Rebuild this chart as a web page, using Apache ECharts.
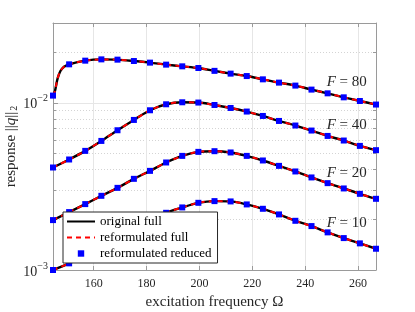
<!DOCTYPE html>
<html>
<head>
<meta charset="utf-8">
<script src="https://cdn.jsdelivr.net/npm/echarts@6/dist/echarts.min.js"></script>
<style>html,body{margin:0;padding:0;background:#fff}#c{width:415px;height:312px}</style>
</head>
<body>
<div id="c"></div>
<script>
// ---- data ----
const omega = [144.6, 150.7, 156.8, 162.9, 169.0, 175.2, 181.3, 187.4, 193.5, 199.6, 205.7, 211.8, 217.9, 224.0, 230.1, 236.3, 242.4, 248.5, 254.6, 260.7, 266.8];
const resp80 = [0.01104, 0.01698, 0.01786, 0.01818, 0.01811, 0.01777, 0.01738, 0.01691, 0.01652, 0.01614, 0.01552, 0.01494, 0.01445, 0.01381, 0.01320, 0.01267, 0.01199, 0.01139, 0.01078, 0.01025, 0.00976];
const resp40 = [0.004102, 0.004580, 0.005157, 0.005914, 0.006851, 0.007896, 0.009020, 0.009795, 0.01007, 0.01003, 0.009703, 0.009311, 0.008862, 0.008341, 0.007787, 0.007311, 0.006823, 0.006335, 0.005947, 0.005523, 0.005207];
const resp20 = [0.001988, 0.002220, 0.002478, 0.002777, 0.003099, 0.003509, 0.003916, 0.004395, 0.004813, 0.005087, 0.005135, 0.005045, 0.004813, 0.004518, 0.004195, 0.003884, 0.003577, 0.003307, 0.003074, 0.002854, 0.002665];
const resp10 = [0.001000, 0.001096, 0.001229, 0.001379, 0.001548, 0.001738, 0.001953, 0.002198, 0.002367, 0.002522, 0.002582, 0.002571, 0.002467, 0.002323, 0.002150, 0.001969, 0.001831, 0.001679, 0.001552, 0.001443, 0.001340];
// extra points of the full solution on the steep start of F = 80
const omegaRise80 = [145.3, 145.74, 146.38, 147.41, 148.66];
const respRise80 = [0.01170, 0.01262, 0.01405, 0.01548, 0.01638];
const forceLevels = ['80', '40', '20', '10'];
const xTicks = [160, 180, 200, 220, 240, 260];
const xRange = [144.6, 266.8];
const yMajor = [0.001, 0.01];
const yMinor = [0.002, 0.003, 0.004, 0.005, 0.006, 0.007, 0.008, 0.009, 0.02];
const yRange = [0.001, 0.03];
const legendNames = ['original full', 'reformulated full', 'reformulated reduced'];
const labelIndex = 18;

const FONT = '"Liberation Serif", "DejaVu Serif", serif';
const TXT = '#262626';
const AX = '#9a9a9a';

const curves = [
  {F: forceLevels[0], y: resp80, riseX: omegaRise80, riseY: respRise80},
  {F: forceLevels[1], y: resp40},
  {F: forceLevels[2], y: resp20},
  {F: forceLevels[3], y: resp10}
];

const series = [];
curves.forEach(c => {
  const pts = omega.map((x, i) => [x, c.y[i]]);
  let full = pts.slice();
  if (c.riseX) {
    c.riseX.forEach((x, i) => full.push([x, c.riseY[i]]));
    full.sort((a, b) => a[0] - b[0]);
  }
  series.push({
    name: legendNames[0], type: 'line', data: full, showSymbol: false, symbol: 'none',
    smooth: 0.3, lineStyle: {color: '#000', width: 2.4}, itemStyle: {color: '#000'}, z: 2, silent: true
  });
  series.push({
    name: legendNames[1], type: 'line', data: full, showSymbol: false, symbol: 'none',
    smooth: 0.3, lineStyle: {color: '#ff0000', width: 2, type: [5, 4]}, itemStyle: {color: '#ff0000'}, z: 2, silent: true
  });
  series.push({
    name: legendNames[2], type: 'line', symbol: 'rect', symbolSize: 6, showSymbol: true,
    lineStyle: {width: 0, opacity: 0}, itemStyle: {color: '#0000ff'}, z: 2, silent: true,
    data: pts.map((p, i) => i === labelIndex ? {
      value: p,
      label: {
        show: true, position: 'top', distance: 5, offset: [3, 0],
        formatter: '{i|F} = ' + c.F,
        fontFamily: FONT, fontSize: 15, color: TXT,
        rich: {i: {fontStyle: 'italic', fontFamily: FONT, fontSize: 15, color: TXT}}
      }
    } : p)
  });
});

const chart = echarts.init(document.getElementById('c'), null, {renderer: 'canvas'});
chart.setOption({
  animation: false,
  backgroundColor: '#fff',
  grid: {left: 53, right: 39, top: 23, bottom: 42, containLabel: false, outerBoundsMode: 'none'},
  legend: {
    data: [
      {name: legendNames[0], itemStyle: {opacity: 0}},
      {name: legendNames[1], itemStyle: {opacity: 0}},
      {name: legendNames[2], lineStyle: {opacity: 0}}
    ],
    orient: 'vertical', left: 63, top: 212, z: 20, zlevel: 0,
    itemWidth: 28, itemHeight: 8, itemGap: 3,
    padding: [3, 6, 3, 3],
    backgroundColor: '#fff', borderColor: '#262626', borderWidth: 1, borderRadius: 0,
    textStyle: {fontFamily: FONT, fontSize: 13, color: '#000', lineHeight: 13},
    selectedMode: false
  },
  xAxis: [{
    type: 'value', min: xRange[0], max: xRange[1], position: 'bottom',
    name: 'excitation frequency Ω', nameLocation: 'middle', nameGap: 23,
    nameTextStyle: {fontFamily: FONT, fontSize: 15, color: TXT},
    axisLine: {show: true, lineStyle: {color: AX, width: 1}},
    axisTick: {show: true, inside: true, length: 4, customValues: xTicks, lineStyle: {color: AX}},
    axisLabel: {customValues: xTicks, fontFamily: FONT, fontSize: 12, color: TXT, margin: 8},
    splitLine: {show: true, lineStyle: {color: '#e6e6e6', width: 1}}
  }, {
    type: 'value', min: xRange[0], max: xRange[1], position: 'top',
    axisLine: {show: true, lineStyle: {color: AX, width: 1}},
    axisTick: {show: true, inside: true, length: 4, customValues: xTicks, lineStyle: {color: AX}},
    axisLabel: {show: false}, splitLine: {show: false}
  }],
  yAxis: [{
    type: 'log', logBase: 10, min: yRange[0], max: yRange[1], position: 'left',
    name: '{t|response ||}{q|q}{t|||}{s|2}', nameLocation: 'middle', nameGap: 34,
    nameMoveOverlap: false,
    nameTextStyle: {
      fontFamily: FONT, fontSize: 15, color: TXT,
      rich: {
        t: {fontFamily: FONT, fontSize: 15, color: TXT},
        q: {fontFamily: FONT, fontSize: 15, color: TXT, fontStyle: 'italic'},
        s: {fontFamily: FONT, fontSize: 10, color: TXT, verticalAlign: 'bottom', padding: [6, 0, 0, 1]}
      }
    },
    axisLine: {show: true, lineStyle: {color: AX, width: 1}},
    axisTick: {show: true, inside: true, length: 5, customValues: yMajor, lineStyle: {color: AX}},
    axisLabel: {
      customValues: yMajor, margin: 5,
      formatter: v => '{b|10}{s|−' + Math.round(-Math.log10(v)) + '}',
      rich: {
        b: {fontFamily: FONT, fontSize: 14, color: TXT, verticalAlign: 'bottom', lineHeight: 18},
        s: {fontFamily: FONT, fontSize: 10, color: TXT, verticalAlign: 'top', lineHeight: 18, padding: [0, 0, 8, 0]}
      }
    },
    splitLine: {show: true, lineStyle: {color: '#e6e6e6', width: 1}}
  }, {
    type: 'log', logBase: 10, min: yRange[0], max: yRange[1], position: 'right',
    axisLine: {show: true, lineStyle: {color: AX, width: 1}},
    axisTick: {show: true, inside: true, length: 3, customValues: yMinor, lineStyle: {color: AX}},
    axisLabel: {show: false},
    splitLine: {show: true, lineStyle: {color: '#d4d4d4', width: 1, type: [1, 2]}}
  }, {
    type: 'log', logBase: 10, min: yRange[0], max: yRange[1], position: 'left', offset: 0,
    axisLine: {show: false},
    axisTick: {show: true, inside: true, length: 3, customValues: yMinor, lineStyle: {color: AX}},
    axisLabel: {show: false}, splitLine: {show: false}
  }],
  series: series
});
</script>
</body>
</html>
